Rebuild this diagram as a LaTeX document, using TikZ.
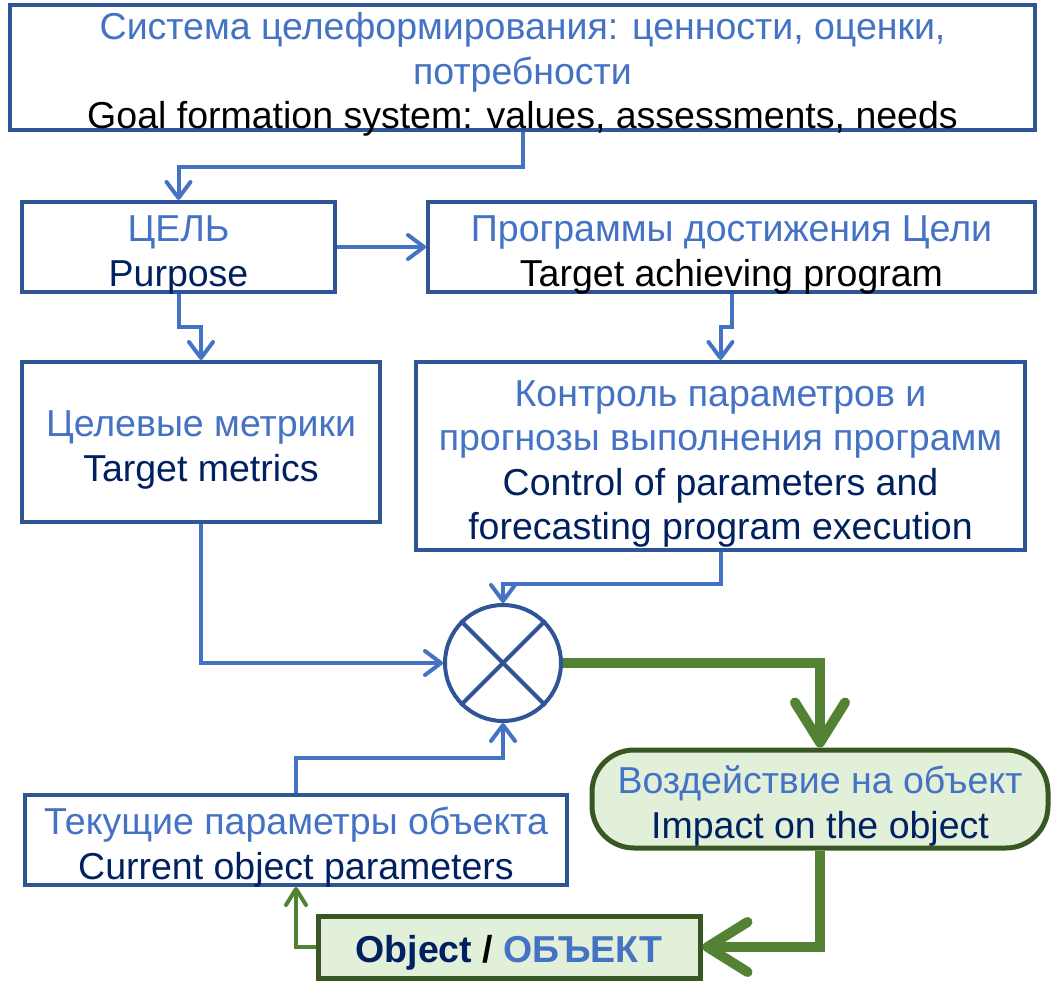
\documentclass[tikz,border=0pt]{standalone}
\usepackage{fontspec}
\setmainfont{Liberation Sans}
\usepackage{tikz}
\usetikzlibrary{arrows.meta}
\definecolor{txtblue}{RGB}{68,114,196}
\definecolor{navy}{RGB}{0,32,96}
\definecolor{boxblue}{RGB}{47,85,151}
\definecolor{arrgreen}{RGB}{84,130,53}
\definecolor{boxgreen}{RGB}{56,87,35}
\definecolor{fillgreen}{RGB}{226,240,217}
\newcommand{\ru}[1]{\textcolor{txtblue}{#1}}
\newcommand{\en}[1]{\textcolor{navy}{#1}}
\newcommand{\topstrut}{\rule{0pt}{34pt}}
\tikzset{
  blockbox/.style={draw=boxblue, line width=4pt, fill=white, align=center, inner sep=0pt,
    font=\fontsize{37.5}{44.5}\selectfont},
  greenbox/.style={blockbox, draw=boxgreen, line width=5pt, fill=fillgreen},
  bluearr/.style={draw=txtblue, line width=4pt, -{Straight Barb[length=16pt,width=24pt,round]}},
  thickarr/.style={draw=arrgreen, line width=10pt, -{Straight Barb[length=40pt,width=50pt,round]}},
  thinarr/.style={draw=arrgreen, line width=4pt, -{Straight Barb[length=16pt,width=20pt,round]}}
}
\begin{document}
\begin{tikzpicture}[x=1pt,y=-1pt]
\useasboundingbox (0,0) rectangle (1051,981);
\node[blockbox, minimum width=1025pt, minimum height=125pt] (system) at (522.5,67.5) {\topstrut\ru{Система целеформирования: ценности, оценки,}\\\ru{потребности}\\\smash{Goal formation system: values, assessments, needs}};
\node[blockbox, minimum width=313pt, minimum height=90pt] (purpose) at (178.5,247) {\topstrut\ru{ЦЕЛЬ}\\\smash{\en{Purpose}}};
\node[blockbox, minimum width=607pt, minimum height=90pt] (program) at (731.5,247) {\topstrut\ru{Программы достижения Цели}\\\smash{Target achieving program}};
\node[blockbox, minimum width=358pt, minimum height=160pt] (metrics) at (201,442) {\topstrut\ru{Целевые метрики}\\\smash{\en{Target metrics}}};
\node[blockbox, minimum width=609pt, minimum height=188pt] (control) at (720.5,456) {\topstrut\ru{Контроль параметров и}\\\ru{прогнозы выполнения программ}\\\en{Control of parameters and}\\\smash{\en{forecasting program execution}}};
\node[draw=boxblue, line width=4pt, circle, minimum size=116pt, inner sep=0pt] (mixer) at (503,663) {};
\draw[boxblue, line width=4pt] (mixer.north west) -- (mixer.south east) (mixer.north east) -- (mixer.south west);
\node[greenbox, rounded corners=42pt, minimum width=456pt, minimum height=98pt] (impact) at (820,799) {\topstrut\ru{Воздействие на объект}\\\smash{\en{Impact on the object}}};
\node[blockbox, minimum width=542pt, minimum height=90pt] (current) at (296,840) {\topstrut\ru{Текущие параметры объекта}\\\smash{\en{Current object parameters}}};
\node[greenbox, minimum width=382pt, minimum height=62pt] (object) at (509,947) {\rule{0pt}{30pt}\smash{\bfseries\en{Object} / \ru{ОБЪЕКТ}}};
% connectors
\draw[bluearr] (system.south) -- ++(0,35) -| (purpose.north);
\draw[bluearr] (purpose) -- (program);
\draw[bluearr] (purpose.south) -- ++(0,33) -| (metrics.north);
\draw[bluearr] (program.south) -- ++(0,33) -| (control.north);
\draw[bluearr] (metrics.south) |- (mixer.west);
\draw[bluearr] (control.south) -- ++(0,32) -| (mixer.north);
\draw[bluearr] (current.north) -- ++(0,-35) -| (mixer.south);
\draw[thickarr] (mixer.east) -| (impact.north);
\draw[thickarr] (impact.south) |- (object.east);
\draw[thinarr] (object.west) -| (current.south);
\end{tikzpicture}
\end{document}
